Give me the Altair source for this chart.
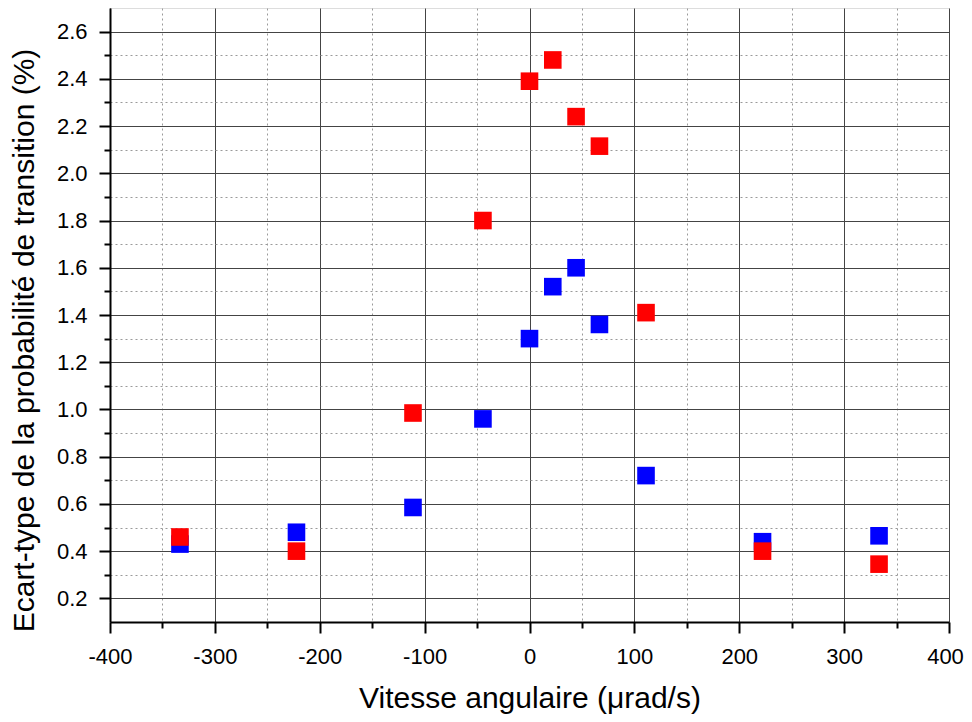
import altair as alt
import pandas as pd

# Angular velocity (µrad/s)
vitesse = [-333.3, -222.2, -111.1, -44.4, 0.0, 22.2, 44.4, 66.7, 111.1, 222.2, 333.3]
# Standard deviation of transition probability (%)
serie_bleue = [0.43, 0.48, 0.585, 0.96, 1.30, 1.52, 1.60, 1.36, 0.72, 0.44, 0.465]
serie_rouge = [0.46, 0.40, 0.985, 1.80, 2.39, 2.48, 2.24, 2.115, 1.41, 0.40, 0.345]

x_ticks = list(range(-400, 401, 50))
y_ticks = [round(i / 10, 1) for i in range(2, 27)]

rows = []
for xv, yv in zip(vitesse, serie_bleue):
    rows.append({"vitesse": xv, "ecart": yv, "serie": "bleu"})
for xv, yv in zip(vitesse, serie_rouge):
    rows.append({"vitesse": xv, "ecart": yv, "serie": "rouge"})
df = pd.DataFrame(rows)

FONT = "Liberation Sans"

x_major = "datum.value % 100 === 0"
y_major = "round(datum.value * 10) % 2 === 0"


def cond(test, a, b):
    return {"condition": {"test": test, "value": a}, "value": b}


x_axis = alt.Axis(
    values=x_ticks,
    labelExpr=f"{x_major} ? '' + datum.value : ''",
    grid=True,
    gridColor=cond(x_major, "#444444", "#9a9a9a"),
    gridDash=cond(x_major, [], [2, 3]),
    gridWidth=1,
    tickColor="black",
    tickWidth=2,
    tickSize=cond(x_major, 11, 6),
    domainColor="black",
    domainWidth=2,
    labelFont=FONT,
    labelFontSize=22,
    labelColor="black",
    labelPadding=13,
    labelOffset=cond("datum.value === 400", -4, 0),
    labelFlush=False,
    labelOverlap=False,
    title="Vitesse angulaire (\u03bcrad/s)",
    titleFont=FONT,
    titleFontSize=30,
    titleFontWeight="normal",
    titleColor="black",
    titleBaseline="alphabetic",
    titleY=85,
)

y_axis = alt.Axis(
    values=y_ticks,
    labelExpr=f"{y_major} ? format(datum.value, '.1f') : ''",
    grid=True,
    gridColor=cond(y_major, "#444444", "#9a9a9a"),
    gridDash=cond(y_major, [], [2, 3]),
    gridWidth=1,
    tickColor="black",
    tickWidth=2,
    tickSize=cond(y_major, 11, 6),
    domainColor="black",
    domainWidth=2,
    labelFont=FONT,
    labelFontSize=22,
    labelColor="black",
    labelPadding=12,
    labelFlush=False,
    labelOverlap=False,
    title="Ecart-type de la probabilit\u00e9 de transition (%)",
    titleFont=FONT,
    titleFontSize=30,
    titleFontWeight="normal",
    titleColor="black",
    titleBaseline="alphabetic",
    titleAngle=270,
    titleX=-77,
    titleY=332,
)

chart = (
    alt.Chart(df)
    .mark_square(size=310, opacity=1)
    .encode(
        x=alt.X("vitesse:Q", scale=alt.Scale(domain=[-400, 400], nice=False, zero=False), axis=x_axis),
        y=alt.Y("ecart:Q", scale=alt.Scale(domain=[0.1, 2.7], nice=False, zero=False), axis=y_axis),
        color=alt.Color(
            "serie:N",
            scale=alt.Scale(domain=["bleu", "rouge"], range=["#0000ff", "#ff0000"]),
            legend=None,
        ),
    )
    .properties(
        width=839,
        height=614,
        autosize=alt.AutoSizeParams(type="none"),
        padding={"left": 102, "top": 0, "right": 15, "bottom": 92},
    )
    .configure_view(stroke="black", strokeWidth=2)
    .configure(background="white")
)

chart.save("out.html", embed_options={"renderer": "svg", "actions": False})
